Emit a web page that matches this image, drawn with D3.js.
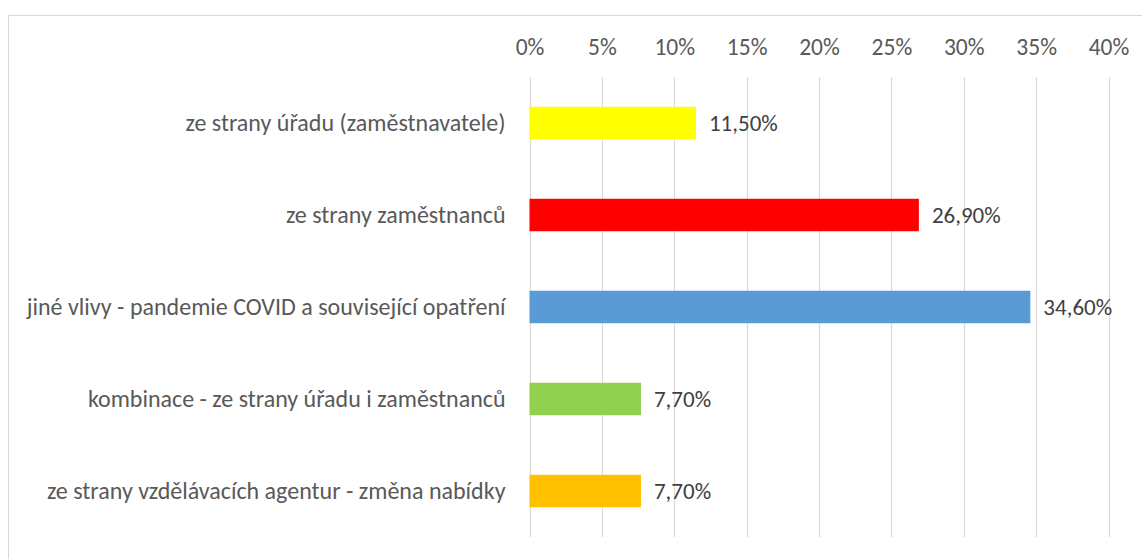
<!DOCTYPE html>
<html><head><meta charset="utf-8">
<script src="https://cdn.jsdelivr.net/npm/d3@7"></script>
<style>html,body{margin:0;padding:0;background:#fff;overflow:hidden}</style>
</head><body>
<svg id="c" width="1142" height="559"></svg>
<script>
const categories = [
  "ze strany úřadu (zaměstnavatele)",
  "ze strany zaměstnanců",
  "jiné vlivy - pandemie COVID a související opatření",
  "kombinace - ze strany úřadu i zaměstnanců",
  "ze strany vzdělávacích agentur - změna nabídky"
];
const values = [11.5, 26.9, 34.6, 7.7, 7.7];
const colors = ["#FFFF00", "#FF0000", "#5B9BD5", "#92D050", "#FFC000"];
const tickValues = [0, 5, 10, 15, 20, 25, 30, 35, 40];

(function () {
const svg = d3.select("#c");
const font = "Carlito, Calibri, Lato, sans-serif";
const textColor = "#595959";
const pLeft = 529.5, pRight = 1108.5, pTop = 77, pBottom = 537;

// chart border
svg.append("rect").attr("x", 8.5).attr("y", 15.5).attr("width", 1200).attr("height", 700)
  .attr("fill", "none").attr("stroke", "#d9d9d9").attr("stroke-width", 1);

const x = d3.scaleLinear().domain([0, 40]).range([pLeft, pRight]);
const y = d3.scaleBand().domain(categories).range([pTop, pBottom]).paddingInner(0.647).paddingOuter(0.3235);

// gridlines
svg.append("g").selectAll("line").data(tickValues).join("line")
  .attr("x1", d => Math.round(x(d)) + 0.5).attr("x2", d => Math.round(x(d)) + 0.5)
  .attr("y1", pTop).attr("y2", pBottom)
  .attr("stroke", "#d9d9d9").attr("stroke-width", 1.2);

// top axis labels
const xAxis = d3.axisTop(x).tickValues(tickValues).tickSize(0).tickPadding(0)
  .tickFormat(d => d + "%");
const ax = svg.append("g").attr("transform", `translate(0,55)`).call(xAxis);
ax.select(".domain").remove();
ax.selectAll("text").attr("font-family", font).attr("font-size", 23.5).attr("fill", textColor)
  .attr("dy", 0);

// bars
svg.append("g").selectAll("rect").data(values).join("rect")
  .attr("x", x(0)).attr("y", (d, i) => y(categories[i]))
  .attr("width", d => x(d) - x(0)).attr("height", y.bandwidth())
  .attr("fill", (d, i) => colors[i]);

// category labels
const yAxis = d3.axisLeft(y).tickSize(0).tickPadding(24);
const ay = svg.append("g").attr("transform", `translate(${pLeft},0)`).call(yAxis);
ay.select(".domain").remove();
ay.selectAll("text").attr("font-family", font).attr("font-size", 24).attr("fill", textColor)
  .attr("dy", "0.33em");

// value labels
svg.append("g").selectAll("text").data(values).join("text")
  .attr("x", d => x(d) + 13)
  .attr("y", (d, i) => y(categories[i]) + y.bandwidth() / 2)
  .attr("dy", "0.35em")
  .attr("font-family", font).attr("font-size", 23).attr("fill", "#404040")
  .text(d => d3.format(".2f")(d).replace(".", ",") + "%");
})();
</script>
</body></html>
